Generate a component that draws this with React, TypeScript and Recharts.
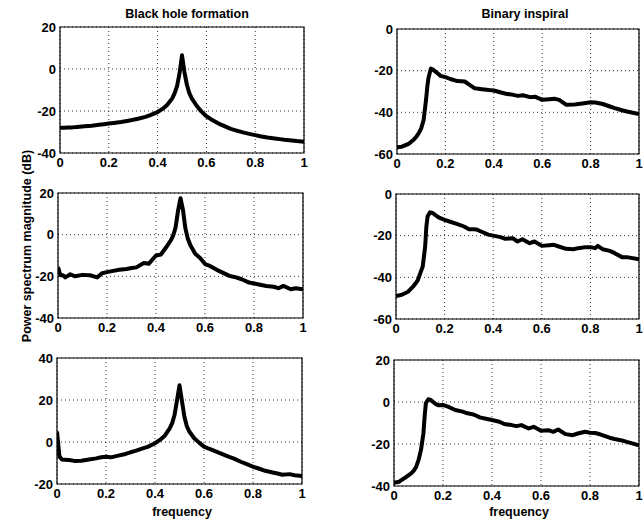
import { LineChart, Line, XAxis, YAxis, CartesianGrid, ReferenceArea } from 'recharts';

// frequency grids (denser where the curves change fast)
const bhFreq = [
  0, 0.01, 0.02, 0.03, 0.05, 0.07, 0.1, 0.13, 0.16, 0.18, 0.2, 0.22, 0.25, 0.28, 0.3, 0.32,
  0.35, 0.37, 0.4, 0.42, 0.44, 0.46, 0.47, 0.48, 0.49, 0.5, 0.51, 0.52, 0.53, 0.54, 0.56, 0.58,
  0.6, 0.62, 0.65, 0.7, 0.72, 0.75, 0.78, 0.8, 0.82, 0.85, 0.88, 0.9, 0.92, 0.95, 0.97, 1.0,
];
const binFreq = [
  0, 0.02, 0.03, 0.05, 0.07, 0.08, 0.09, 0.1, 0.11, 0.12, 0.125, 0.13, 0.14, 0.15, 0.17, 0.18,
  0.2, 0.22, 0.25, 0.28, 0.3, 0.32, 0.33, 0.35, 0.38, 0.4, 0.43, 0.45, 0.48, 0.5, 0.52, 0.55,
  0.57, 0.6, 0.63, 0.65, 0.67, 0.7, 0.73, 0.75, 0.78, 0.8, 0.82, 0.83, 0.85, 0.88, 0.9, 0.93,
  0.95, 1.0,
];

// Black hole formation (dB)
const bhTop = [
  -28, -28, -28, -27.9, -27.8, -27.6, -27.3, -27, -26.6, -26.3, -26, -25.7, -25.2, -24.6, -24.2, -23.7,
  -22.8, -22, -20.5, -19, -17, -14, -11.5, -8, -2, 6.5, -1.5, -7.5, -11.5, -14, -17.5, -20.3,
  -22.5, -24, -26, -28.5, -29.2, -30.2, -31, -31.5, -32, -32.6, -33.1, -33.4, -33.7, -34, -34.3, -34.6,
];
const bhMid = [
  -15.5, -19.5, -19.5, -20.5, -19, -20, -19.3, -19.5, -20.5, -18.5, -18, -17.5, -16.8, -16.5, -16, -15.7,
  -13.6, -14, -10, -9.5, -6.3, -2.8, -0.5, 3.5, 11.5, 17.5, 12, 3, -2, -5, -9.2, -11.2,
  -14.1, -15, -17, -19.8, -20.3, -21.4, -23, -23.4, -23.9, -24.6, -25, -25.7, -24.6, -26.2, -25.7, -26.2,
];
const bhBot = [
  5, -7, -8.3, -8.5, -8.6, -9, -8.9, -8.3, -7.8, -7.3, -7, -7.3, -6.5, -5.7, -4.9, -4.2,
  -3, -2.3, -0.6, 1, 3, 6.5, 9, 13, 20, 27, 19.5, 12, 7.5, 5, 1.8, -0.3,
  -2.2, -3.2, -4.6, -7, -7.8, -9.4, -10.8, -11.8, -12.5, -13.7, -14.5, -15, -15.6, -15.3, -15.8, -16.2,
];

// Binary inspiral (dB)
const binTop = [
  -56.8, -56.5, -56, -55, -53, -51.7, -50, -47.7, -43.7, -34, -28, -23.5, -19, -19.6, -21.5, -22.5,
  -23.1, -24, -25, -25.2, -26.8, -28.4, -28.6, -28.9, -29.3, -29.5, -30.5, -31.1, -31.6, -32.1, -31.8, -32.7,
  -32.5, -34, -33.7, -33.5, -34, -36.4, -36.3, -36, -35.5, -35.2, -35.3, -35.5, -36, -37.2, -38, -39,
  -39.6, -40.8,
];
const binMid = [
  -49, -48.5, -48, -46.9, -44.5, -43, -41.3, -38, -34.8, -25.2, -15.6, -10.8, -8.8, -9.1, -10.8, -11.5,
  -12.4, -13.2, -14.3, -15.6, -16.9, -16.9, -17, -18, -19.5, -20, -20.7, -21.5, -21.2, -22.8, -21.7, -23.6,
  -22.8, -24.9, -24.6, -24.4, -25.2, -26.3, -26.5, -26, -25.5, -25.5, -26, -24.9, -26.5, -27.3, -28.4, -30.3,
  -30.3, -31.3,
];
const binBot = [
  -38.5, -38, -37.2, -35.7, -34, -32.8, -31, -27.7, -22.9, -15, -7, -0.6, 1.3, 1, -1, -1.5,
  -1.4, -2.2, -3.8, -4.6, -5.4, -5.8, -6.2, -7.3, -8.1, -8.6, -9.4, -10.5, -11, -11.5, -11, -12.6,
  -11.8, -13.7, -13.4, -14.2, -13.1, -15.3, -15.8, -15, -14.2, -14.6, -14.8, -15, -15.8, -17, -17.6, -18.3,
  -19, -20.6,
];

const freqTicks = [0, 0.2, 0.4, 0.6, 0.8, 1];
const ticksA = [-40, -20, 0, 20];
const ticksB = [-60, -40, -20, 0];
const ticksC = [-20, 0, 20, 40];

const FONT = '"Liberation Sans", Arial, Helvetica, sans-serif';
const TICK = { fontFamily: FONT, fontWeight: 700, fontSize: 13, fill: '#000' };

const fmtFreq = (v: number) => (v === 0 ? '0' : v === 1 ? '1' : String(v));

type Box = { x: number; y: number; w: number; h: number };

const Panel = ({ freq, db, yTicks, box }: { freq: number[]; db: number[]; yTicks: number[]; box: Box }) => {
  const data = freq.map((f, i) => ({ f, db: db[i] }));
  const ML = 34;
  const MT = 8;
  const MR = 8;
  const XH = 24;
  const yMin = yTicks[0];
  const yMax = yTicks[yTicks.length - 1];
  return (
    <div style={{ position: 'absolute', left: box.x - ML, top: box.y - MT }}>
      <LineChart
        width={box.w + ML + MR}
        height={box.h + MT + XH}
        data={data}
        margin={{ top: MT, right: MR, bottom: 0, left: 0 }}
      >
        <CartesianGrid stroke="#000" strokeDasharray="1 3" strokeWidth={0.8} />
        <XAxis
          dataKey="f"
          type="number"
          domain={[0, 1]}
          ticks={freqTicks}
          interval={0}
          height={XH}
          tickLine={false}
          axisLine={false}
          tickSize={3}
          tickMargin={2}
          tick={TICK}
          tickFormatter={fmtFreq}
          allowDataOverflow
        />
        <YAxis
          type="number"
          domain={[yMin, yMax]}
          ticks={yTicks}
          interval={0}
          width={ML}
          tickLine={false}
          axisLine={false}
          tickSize={3}
          tickMargin={1}
          tick={TICK}
          allowDataOverflow
        />
        <ReferenceArea x1={0} x2={1} y1={yMin} y2={yMax} fill="none" fillOpacity={0} stroke="#000" strokeWidth={1.2} />
        <Line
          dataKey="db"
          type="linear"
          stroke="#000"
          strokeWidth={4}
          strokeLinejoin="round"
          dot={false}
          isAnimationActive={false}
        />
      </LineChart>
    </div>
  );
};

const labelStyle = {
  position: 'absolute' as const,
  fontFamily: FONT,
  fontWeight: 700,
  fontSize: 12.5,
  color: '#000',
  whiteSpace: 'nowrap' as const,
  transform: 'translate(-50%, -50%)',
};

export default function App() {
  return (
    <div
      style={{
        position: 'absolute',
        left: 0,
        top: 0,
        width: 644,
        height: 520,
        background: '#fff',
        overflow: 'hidden',
      }}
    >
      <div style={{ ...labelStyle, left: 187, top: 14 }}>Black hole formation</div>
      <div style={{ ...labelStyle, left: 525, top: 14 }}>Binary inspiral</div>
      <div style={{ ...labelStyle, left: 27, top: 246, transform: 'translate(-50%, -50%) rotate(-90deg)' }}>
        Power spectrum magnitude (dB)
      </div>
      <div style={{ ...labelStyle, left: 182, top: 512 }}>frequency</div>
      <div style={{ ...labelStyle, left: 519, top: 512 }}>frequency</div>

      <Panel freq={bhFreq} db={bhTop} yTicks={ticksA} box={{ x: 60, y: 27, w: 244, h: 126 }} />
      <Panel freq={binFreq} db={binTop} yTicks={ticksB} box={{ x: 397, y: 29, w: 242, h: 125 }} />
      <Panel freq={bhFreq} db={bhMid} yTicks={ticksA} box={{ x: 58, y: 193, w: 245, h: 125 }} />
      <Panel freq={binFreq} db={binMid} yTicks={ticksB} box={{ x: 396, y: 194, w: 243, h: 125 }} />
      <Panel freq={bhFreq} db={bhBot} yTicks={ticksC} box={{ x: 57, y: 358, w: 245, h: 126 }} />
      <Panel freq={binFreq} db={binBot} yTicks={ticksA} box={{ x: 394, y: 360, w: 245, h: 126 }} />
    </div>
  );
}
